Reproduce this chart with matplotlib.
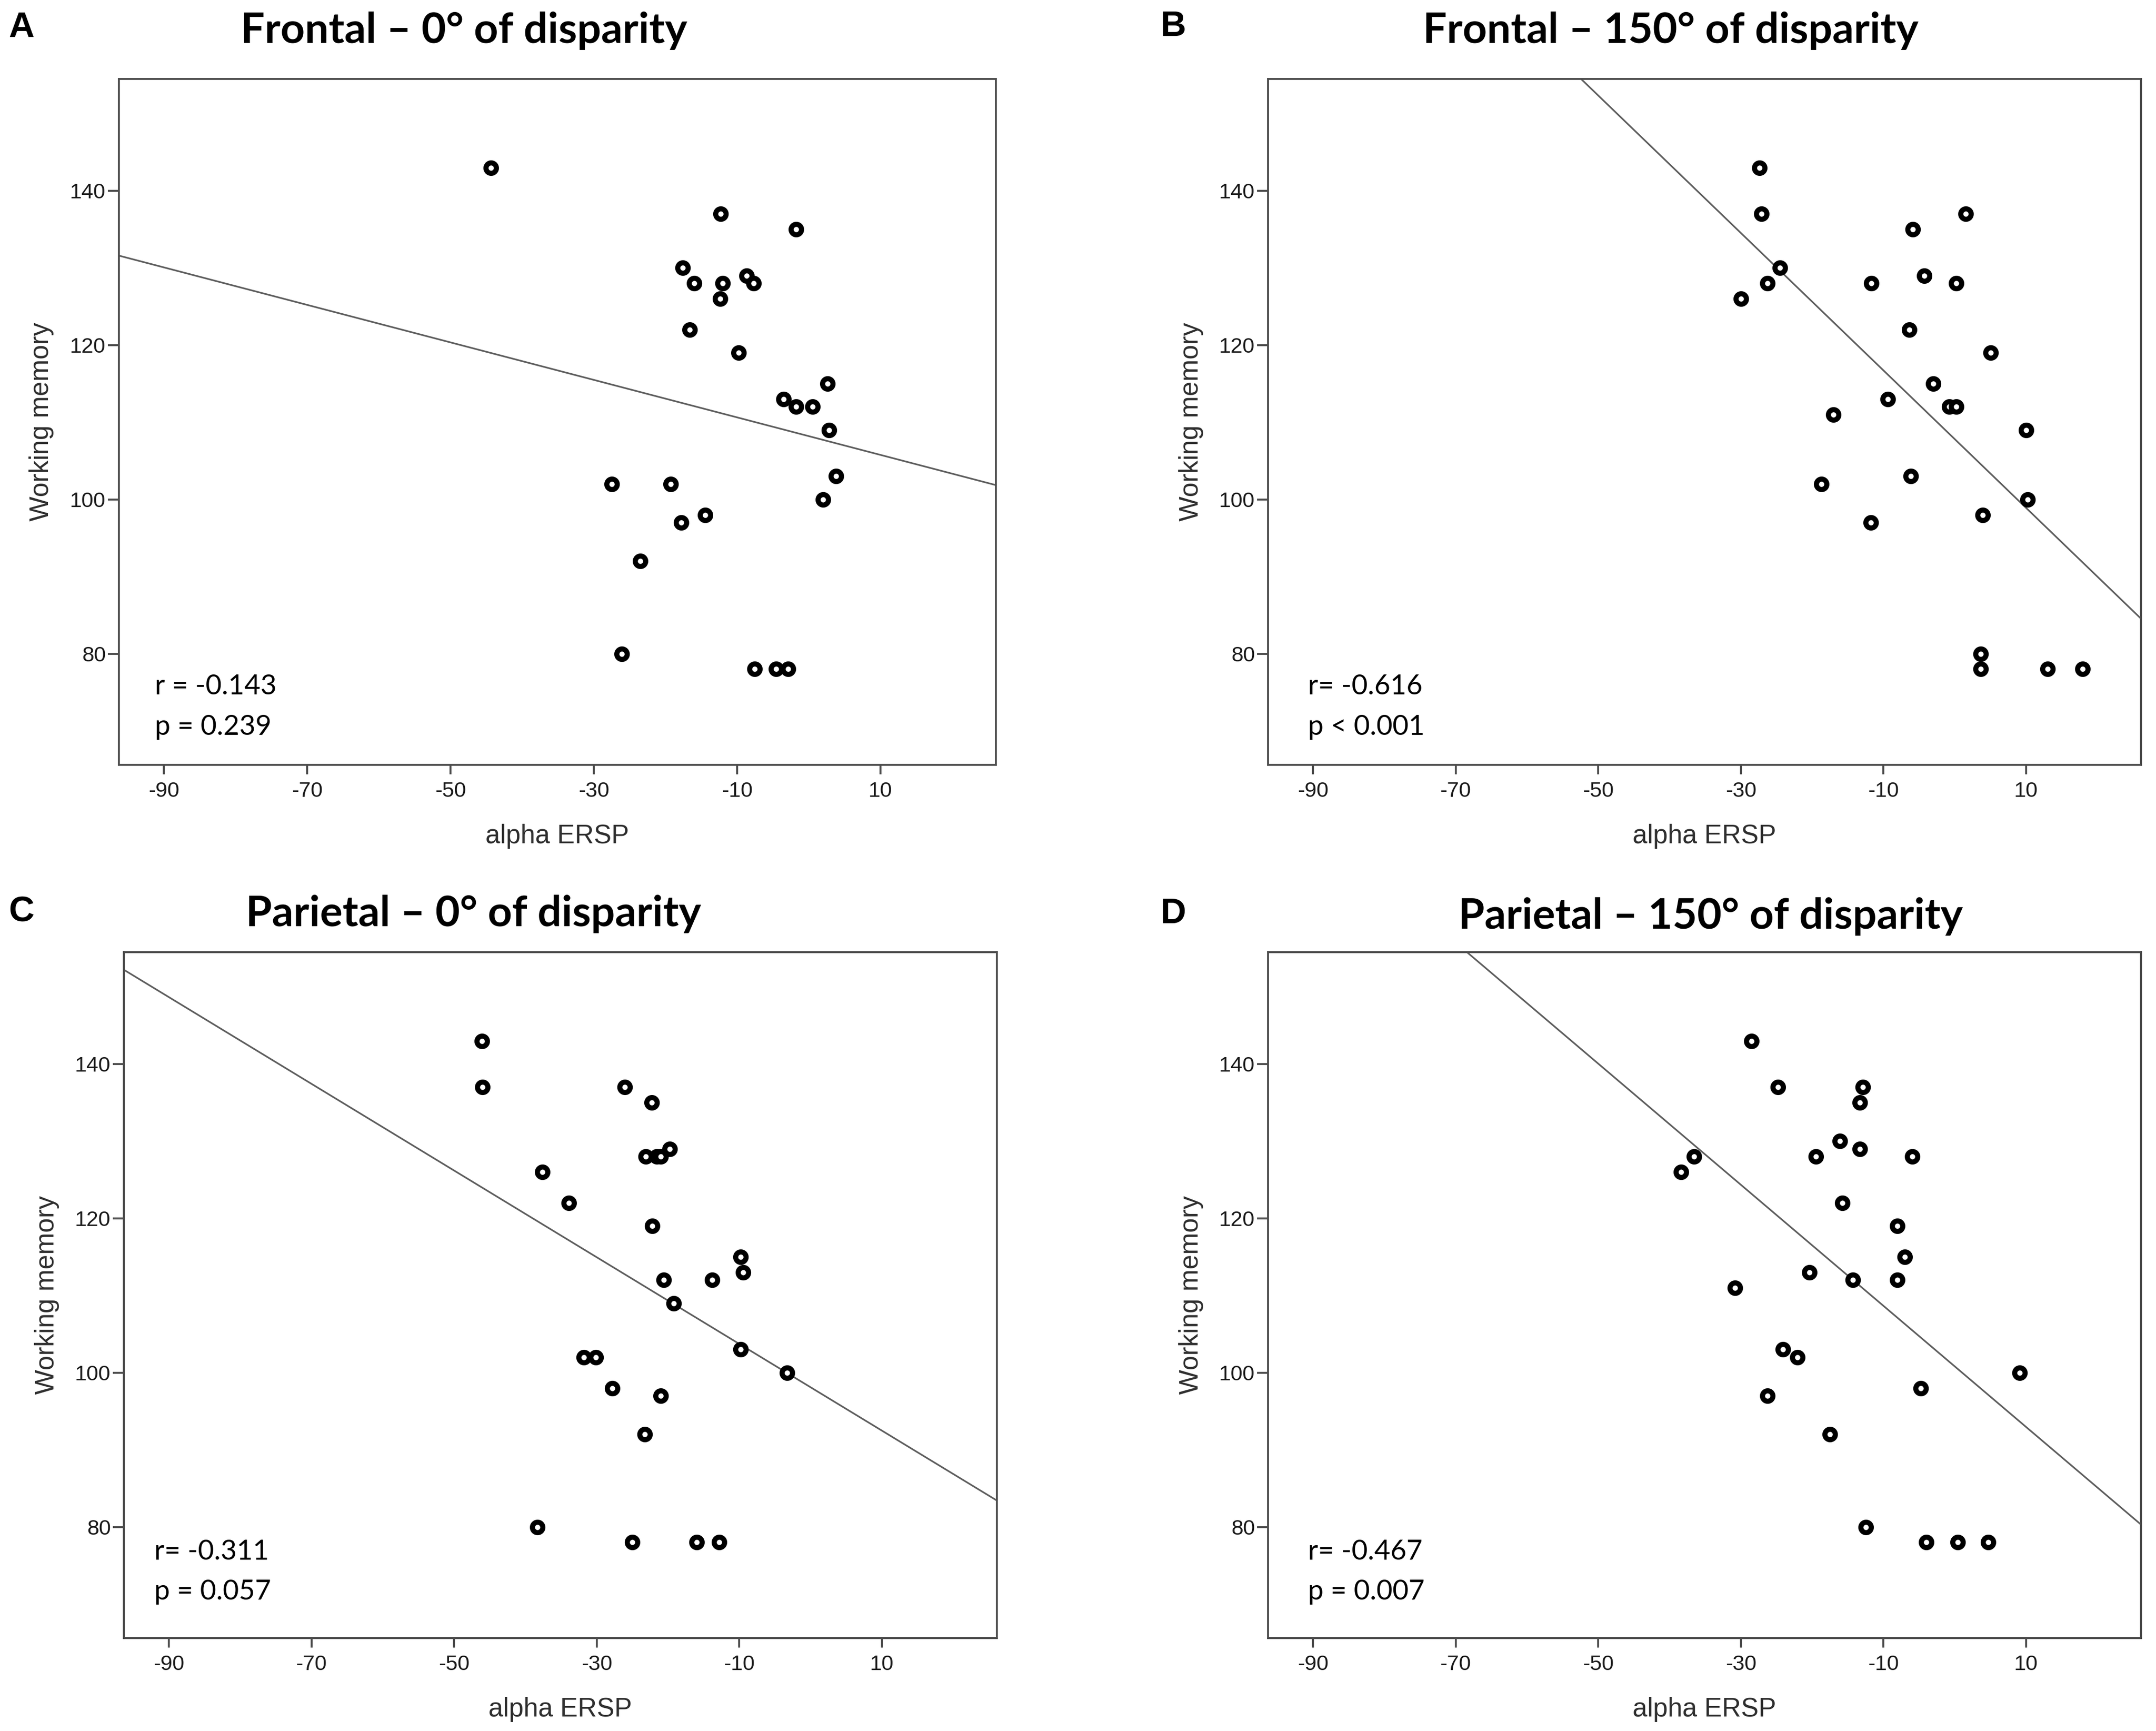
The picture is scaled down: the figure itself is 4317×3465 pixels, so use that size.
import numpy as np
import matplotlib
matplotlib.use("Agg")
from matplotlib import pyplot as plt

plt.rcParams["axes.unicode_minus"] = False

# values
frontal0_x = [-44.4, -12.3, -1.8, -17.6, -16.0, -12.0, -8.7, -7.7, -12.4, -16.6, -9.8, 2.6, -3.5, -1.8,
              0.5, 2.8, 3.8, 2.0, -27.5, -19.3, -14.5, -17.8, -23.5, -26.1, -7.6, -4.6, -2.9]
frontal0_y = [143, 137, 135, 130, 128, 128, 129, 128, 126, 122, 119, 115, 113, 112,
              112, 109, 103, 100, 102, 102, 98, 97, 92, 80, 78, 78, 78]

frontal150_x = [-27.4, -27.1, 1.5, -5.9, -24.5, -4.3, -26.3, -11.7, 0.2, -30.0, -6.4, 5.0, -3.0, -9.4,
                -0.8, 0.2, -17.0, 10.0, -6.2, -18.7, 10.2, 3.9, -11.8, 3.6, 3.6, 13.0, 17.9]
frontal150_y = [143, 137, 137, 135, 130, 129, 128, 128, 128, 126, 122, 119, 115, 113,
                112, 112, 111, 109, 103, 102, 100, 98, 97, 80, 78, 78, 78]

parietal0_x = [-46.1, -46.0, -26.1, -22.3, -37.6, -33.9, -23.1, -21.6, -21.0, -19.8, -22.2, -9.8, -9.5, -20.6,
               -13.8, -19.2, -9.8, -3.3, -31.8, -30.1, -27.8, -21.0, -23.3, -38.3, -25.0, -16.0, -12.8]
parietal0_y = [143, 137, 137, 135, 126, 122, 128, 128, 128, 129, 119, 115, 113, 112,
               112, 109, 103, 100, 102, 102, 98, 97, 92, 80, 78, 78, 78]

parietal150_x = [-28.5, -24.8, -12.9, -13.3, -16.1, -13.3, -19.5, -6.0, -36.6, -38.4, -15.8, -8.1, -7.0, -20.4,
                 -14.3, -8.1, -30.8, -24.1, -22.1, 9.1, -4.8, -26.3, -17.5, -12.5, -4.0, 0.4, 4.7]
parietal150_y = [143, 137, 137, 135, 130, 129, 128, 128, 128, 126, 122, 119, 115, 113,
                 112, 112, 111, 103, 102, 100, 98, 97, 92, 80, 78, 78, 78]

# fitted lines as printed in the figure (slope, intercept)
fit_slope = [-0.243, -0.891, -0.562, -0.785]
fit_intercept = [108.2, 107.8, 98.1, 100.8]

titles = ["Frontal \u2013 0\u00b0 of disparity", "Frontal \u2013 150\u00b0 of disparity",
          "Parietal \u2013 0\u00b0 of disparity", "Parietal \u2013 150\u00b0 of disparity"]
letters = ["A", "B", "C", "D"]
r_labels = ["r = -0.143", "r= -0.616", "r= -0.311", "r= -0.467"]
p_labels = ["p = 0.239", "p < 0.001", "p = 0.057", "p = 0.007"]
x_ticks = [-90, -70, -50, -30, -10, 10]
y_ticks = [80, 100, 120, 140]

xs_all = [frontal0_x, frontal150_x, parietal0_x, parietal150_x]
ys_all = [frontal0_y, frontal150_y, parietal0_y, parietal150_y]

W, H = 4317, 3465
fig = plt.figure(figsize=(W / 100, H / 100), dpi=100)
fig.patch.set_facecolor("white")

# axes boxes in pixels: left, top, right, bottom
boxes = [(238, 158, 1994, 1531), (2539, 158, 4287, 1531),
         (248, 1906, 1996, 3279), (2539, 1906, 4287, 3279)]
letter_pos = [(17, 74), (2323, 72), (17, 1845), (2323, 1848)]
title_pos = [(929, 86), (3345, 86), (948, 1854), (3425, 1859)]
stat_x = [0.041, 0.046, 0.035, 0.046]
stat_y = [(0.103, 0.044), (0.103, 0.044), (0.114, 0.056), (0.114, 0.056)]

xlim = (-96.3, 26.1)
ylim = (65.6, 154.5)
frame_col = "#4d4d4d"
text_col = "#1a1a1a"

for i in range(4):
    l, t, r, b = boxes[i]
    ax = fig.add_axes([l / W, 1 - b / H, (r - l) / W, (b - t) / H])

    line_x = np.array(xlim)
    ax.plot(line_x, fit_intercept[i] + fit_slope[i] * line_x, color="#5e5e5e", lw=2.4, zorder=2)
    ax.plot(xs_all[i], ys_all[i], "o", ms=15, mfc="white", mec="black", mew=7.4, zorder=3)

    ax.set_xlim(xlim)
    ax.set_ylim(ylim)
    ax.set_xticks(x_ticks)
    ax.set_yticks(y_ticks)
    for sp in ax.spines.values():
        sp.set_color(frame_col)
        sp.set_linewidth(2.8)
    ax.tick_params(axis="x", length=14, width=2.8, color=frame_col, pad=10,
                   labelsize=31, labelcolor=text_col)
    ax.tick_params(axis="y", length=16, width=2.8, color=frame_col, pad=3,
                   labelsize=31, labelcolor=text_col)
    for lab in ax.get_xticklabels() + ax.get_yticklabels():
        lab.set_family("Liberation Sans")

    ax.set_xlabel("alpha ERSP", fontsize=38, family="Liberation Sans", color="#2e2e2e")
    ax.set_ylabel("Working memory", fontsize=38, family="Liberation Sans", color="#2e2e2e")
    ax.xaxis.set_label_coords(0.5, -0.104)
    ax.yaxis.set_label_coords(-0.088, 0.5)
    ax.xaxis.label.set_va("center")
    ax.yaxis.label.set_va("center")

    ax.text(stat_x[i], stat_y[i][0], r_labels[i], transform=ax.transAxes, fontsize=40,
            family="Lato", color="black", va="baseline")
    ax.text(stat_x[i], stat_y[i][1], p_labels[i], transform=ax.transAxes, fontsize=40,
            family="Lato", color="black", va="baseline")

    lx, ly = letter_pos[i]
    fig.text(lx / W, 1 - ly / H, letters[i], fontsize=51, fontweight="bold",
             family="Liberation Sans", va="baseline", ha="left")
    tx, ty = title_pos[i]
    fig.text(tx / W, 1 - ty / H, titles[i], fontsize=61, fontweight="bold",
             family="Lato", va="baseline", ha="center")

fig.savefig("out.png", dpi=100, facecolor="white")
